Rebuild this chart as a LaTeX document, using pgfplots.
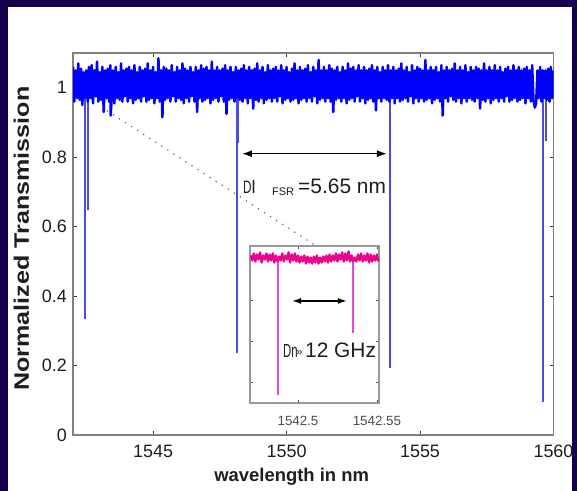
\documentclass[border=0pt]{standalone}
\usepackage{fontspec}
\setmainfont{Liberation Sans}
\usepackage{graphicx}
\usepackage{pgfplots}
\pgfplotsset{compat=1.18}
\usetikzlibrary{arrows.meta}
\definecolor{navybg}{RGB}{21,0,77}
\definecolor{txt}{RGB}{30,30,30}
\definecolor{dipblue}{RGB}{75,75,225}
\definecolor{dipmag}{RGB}{230,70,230}
\begin{document}
\begin{tikzpicture}
\fill[navybg] (-73bp,-56bp) rectangle (504bp,435bp);
\fill[white] (-65bp,-56bp) rectangle (499bp,428bp);
\begin{axis}[
  at={(0bp,0bp)}, anchor=south west,
  scale only axis, width=480.5bp, height=382bp,
  xmin=1542, xmax=1560, ymin=0, ymax=1.1,
  xtick={1545,1550,1555,1560}, ytick={0,0.2,0.4,0.6,0.8,1},
  tick align=inside, major tick length=4bp,
  axis line style={black!50, line width=1.1bp},
  tick style={black!80, line width=0.8bp},
  clip mode=individual,
  unbounded coords=jump,
  /pgf/number format/assume math mode=true,
  /pgf/number format/1000 sep={},
  ticklabel style={font=\fontsize{18}{20}\selectfont, color=txt},
  xticklabel style={inner sep=0pt, anchor=north, yshift=-10bp},
  yticklabel style={inner sep=0pt, anchor=east, xshift=-6bp},
  xlabel={wavelength in nm},
  xlabel style={font=\bfseries\fontsize{18.5}{20}\selectfont, color=txt, at={(axis description cs:0.455,-0.1099)}, anchor=center},
  ylabel={\scalebox{1.2}[1]{Normalized Transmission}},
  ylabel style={font=\bfseries\fontsize{21}{24}\selectfont, color=txt, at={(axis description cs:-0.1072,0.514)}, anchor=center},
]
% resonance dips
\addplot[dipblue, line width=2.1bp] coordinates {
(1542.46,0.97)(1542.46,0.333)(1542.46,nan)
(1542.57,0.97)(1542.57,0.647)(1542.57,nan)
(1548.16,0.97)(1548.16,0.236)(1548.16,nan)
(1548.19,0.97)(1548.19,0.842)(1548.19,nan)
(1553.88,0.97)(1553.88,0.193)(1553.88,nan)
(1559.62,0.97)(1559.62,0.095)(1559.62,nan)
(1559.72,0.97)(1559.72,0.848)
};
% noisy transmission band
\addplot[blue, line width=2.5bp, line join=round] coordinates {
(1542.00,1.06)(1542.05,0.96)(1542.10,1.05)(1542.15,0.97)(1542.20,1.07)(1542.25,0.965)(1542.30,1.055)(1542.35,0.95)(1542.40,1.045)(1542.45,0.97)
(1542.50,1.05)(1542.55,0.96)(1542.60,1.06)(1542.65,0.97)(1542.70,1.065)(1542.75,0.955)(1542.80,1.05)(1542.85,0.975)(1542.90,1.075)(1542.95,0.96)
(1543.00,1.045)(1543.05,0.965)(1543.10,1.06)(1543.15,0.93)(1543.20,1.05)(1543.25,0.97)(1543.30,1.055)(1543.35,0.96)(1543.40,1.065)(1543.41,0.92)(1543.45,0.97)
(1543.50,1.05)(1543.55,0.955)(1543.60,1.06)(1543.65,0.97)(1543.70,1.045)(1543.75,0.965)(1543.80,1.07)(1543.85,0.96)(1543.90,1.05)(1543.95,0.975)
(1544.00,1.055)(1544.05,0.96)(1544.10,1.06)(1544.15,0.97)(1544.20,1.05)(1544.25,0.955)(1544.30,1.065)(1544.35,0.965)(1544.40,1.045)(1544.45,0.97)
(1544.50,1.06)(1544.55,0.96)(1544.60,1.05)(1544.65,0.975)(1544.70,1.055)(1544.75,0.96)(1544.80,1.07)(1544.85,0.965)(1544.90,1.05)(1544.95,0.97)
(1545.00,1.06)(1545.05,0.955)(1545.10,1.045)(1545.15,0.97)(1545.20,1.085)(1545.25,0.96)(1545.30,1.05)(1545.35,0.915)(1545.40,1.06)(1545.45,0.965)
(1545.50,1.055)(1545.55,0.97)(1545.60,1.05)(1545.65,0.96)(1545.70,1.065)(1545.75,0.975)(1545.80,1.045)(1545.85,0.96)(1545.90,1.06)(1545.95,0.97)
(1546.00,1.05)(1546.05,0.965)(1546.10,1.07)(1546.15,0.955)(1546.20,1.055)(1546.25,0.97)(1546.30,1.05)(1546.35,0.96)(1546.40,1.06)(1546.45,0.975)
(1546.50,1.045)(1546.55,0.96)(1546.60,1.06)(1546.65,0.93)(1546.70,1.05)(1546.75,0.97)(1546.80,1.065)(1546.85,0.96)(1546.90,1.055)(1546.95,0.965)
(1547.00,1.06)(1547.05,0.97)(1547.10,1.05)(1547.15,0.955)(1547.20,1.075)(1547.25,0.965)(1547.30,1.05)(1547.35,0.97)(1547.40,1.06)(1547.45,0.96)
(1547.50,1.05)(1547.55,0.975)(1547.60,1.055)(1547.65,0.96)(1547.70,1.065)(1547.75,0.925)(1547.80,1.05)(1547.85,0.965)(1547.90,1.06)(1547.95,0.97)
(1548.00,1.045)(1548.05,0.96)(1548.10,1.06)(1548.15,0.97)(1548.20,1.05)(1548.25,0.965)(1548.30,1.055)(1548.35,0.96)(1548.40,1.065)(1548.45,0.97)
(1548.50,1.05)(1548.55,0.955)(1548.60,1.06)(1548.65,0.97)(1548.70,1.05)(1548.75,0.94)(1548.80,1.055)(1548.85,0.965)(1548.90,1.07)(1548.95,0.96)
(1549.00,1.05)(1549.05,0.97)(1549.10,1.06)(1549.15,0.955)(1549.20,1.045)(1549.25,0.965)(1549.30,1.065)(1549.35,0.97)(1549.40,1.05)(1549.45,0.96)
(1549.50,1.055)(1549.55,0.97)(1549.60,1.06)(1549.65,0.96)(1549.70,1.05)(1549.75,0.975)(1549.80,1.065)(1549.85,0.955)(1549.90,1.05)(1549.95,0.965)
(1550.00,1.06)(1550.05,0.97)(1550.10,1.045)(1550.15,0.96)(1550.20,1.055)(1550.25,0.965)(1550.30,1.07)(1550.35,0.97)(1550.40,1.05)(1550.45,0.955)
(1550.50,1.06)(1550.55,0.965)(1550.60,1.05)(1550.65,0.97)(1550.70,1.055)(1550.75,0.96)(1550.80,1.065)(1550.85,0.97)(1550.90,1.045)(1550.95,0.96)
(1551.00,1.06)(1551.05,0.975)(1551.10,1.05)(1551.15,0.955)(1551.20,1.08)(1551.25,0.965)(1551.30,1.05)(1551.35,0.97)(1551.40,1.06)(1551.45,0.96)
(1551.50,1.05)(1551.55,0.97)(1551.60,1.065)(1551.65,0.96)(1551.70,1.055)(1551.75,0.93)(1551.80,1.05)(1551.85,0.965)(1551.90,1.06)(1551.95,0.97)
(1552.00,1.045)(1552.05,0.96)(1552.10,1.06)(1552.15,0.97)(1552.20,1.05)(1552.25,0.955)(1552.30,1.07)(1552.35,0.965)(1552.40,1.055)(1552.45,0.97)
(1552.50,1.06)(1552.55,0.96)(1552.60,1.05)(1552.65,0.975)(1552.70,1.065)(1552.75,0.96)(1552.80,1.05)(1552.85,0.97)(1552.90,1.06)(1552.95,0.955)
(1553.00,1.05)(1553.05,0.965)(1553.10,1.055)(1553.15,0.97)(1553.20,1.065)(1553.25,0.96)(1553.30,1.05)(1553.35,0.935)(1553.40,1.06)(1553.45,0.97)
(1553.50,1.045)(1553.55,0.96)(1553.60,1.06)(1553.65,0.97)(1553.70,1.05)(1553.75,0.965)(1553.80,1.065)(1553.85,0.96)(1553.90,1.05)(1553.95,0.97)
(1554.00,1.06)(1554.05,0.955)(1554.10,1.05)(1554.15,0.97)(1554.20,1.055)(1554.25,0.96)(1554.30,1.07)(1554.35,0.965)(1554.40,1.05)(1554.45,0.97)
(1554.50,1.06)(1554.55,0.96)(1554.60,1.045)(1554.65,0.975)(1554.70,1.065)(1554.75,0.955)(1554.80,1.05)(1554.85,0.97)(1554.90,1.06)(1554.95,0.96)
(1555.00,1.055)(1555.05,0.97)(1555.10,1.05)(1555.15,0.96)(1555.20,1.08)(1555.25,0.965)(1555.30,1.05)(1555.35,0.97)(1555.40,1.06)(1555.45,0.955)
(1555.50,1.05)(1555.55,0.965)(1555.60,1.06)(1555.65,0.97)(1555.70,1.045)(1555.75,0.96)(1555.80,1.065)(1555.85,0.92)(1555.90,1.05)(1555.95,0.97)
(1556.00,1.06)(1556.05,0.96)(1556.10,1.05)(1556.15,0.975)(1556.20,1.055)(1556.25,0.965)(1556.30,1.07)(1556.35,0.96)(1556.40,1.05)(1556.45,0.97)
(1556.50,1.06)(1556.55,0.955)(1556.60,1.05)(1556.65,0.97)(1556.70,1.065)(1556.75,0.96)(1556.80,1.045)(1556.85,0.97)(1556.90,1.06)(1556.95,0.965)
(1557.00,1.05)(1557.05,0.96)(1557.10,1.06)(1557.15,0.97)(1557.20,1.055)(1557.25,0.94)(1557.30,1.05)(1557.35,0.965)(1557.40,1.07)(1557.45,0.96)
(1557.50,1.05)(1557.55,0.97)(1557.60,1.06)(1557.65,0.955)(1557.70,1.05)(1557.75,0.965)(1557.80,1.065)(1557.85,0.97)(1557.90,1.05)(1557.95,0.96)
(1558.00,1.06)(1558.05,0.97)(1558.10,1.045)(1558.15,0.96)(1558.20,1.055)(1558.25,0.975)(1558.30,1.06)(1558.35,0.96)(1558.40,1.05)(1558.45,0.965)
(1558.50,1.065)(1558.55,0.97)(1558.60,1.05)(1558.65,0.96)(1558.70,1.06)(1558.75,0.965)(1558.80,1.05)(1558.85,0.97)(1558.90,1.055)(1558.95,0.955)
(1559.00,1.06)(1559.05,0.97)(1559.10,1.05)(1559.15,0.96)(1559.20,1.065)(1559.25,0.965)(1559.30,0.943)(1559.35,0.955)(1559.40,1.05)(1559.45,0.97)
(1559.50,1.06)(1559.55,0.96)(1559.60,1.05)(1559.65,0.97)(1559.70,1.05)(1559.75,0.965)(1559.80,1.055)(1559.85,0.96)(1559.90,1.06)(1559.95,0.97)(1560.00,1.05)
};
\draw[black!60, line width=1.2bp, dash pattern=on 1.2bp off 6bp] (axis cs:1543.27,0.934) -- (axis cs:1551.07,0.546);
\draw[black, line width=1.5bp, {Latex[length=10bp,width=7bp]}-{Latex[length=10bp,width=7bp]}] (axis cs:1548.33,0.81) -- (axis cs:1553.76,0.81);
\node[anchor=base west, inner sep=0pt, text=txt, font=\fontsize{18}{20}\selectfont] at (axis cs:1548.37,0.695) {\scalebox{0.65}[1]{D}l};
\node[anchor=base west, inner sep=0pt, text=txt, font=\fontsize{11}{12}\selectfont] at (axis cs:1549.455,0.69) {FSR};
\node[anchor=base west, inner sep=0pt, text=txt, font=\fontsize{21}{22}\selectfont] at (axis cs:1550.43,0.695) {=5.65 nm};
\end{axis}
\begin{axis}[
  at={(177bp,32bp)}, anchor=south west,
  scale only axis, width=129bp, height=157bp,
  xmin=69.6, xmax=151.3, ymin=0.3, ymax=1.066,
  xtick={100,150}, xticklabels={1542.5,1542.55},
  ytick={0.4,0.6,0.8,1}, yticklabels={},
  axis background/.style={fill=white},
  tick align=inside, major tick length=3bp,
  axis line style={black!40, line width=1.1bp},
  tick style={black!70, line width=0.7bp},
  clip mode=individual,
  unbounded coords=jump,
  xticklabel style={font=\fontsize{13.4}{14}\selectfont, color=black!70, inner sep=0pt, anchor=north, yshift=-13bp},
]
\addplot[dipmag, line width=1.9bp] coordinates {
(87.1,0.99)(87.1,0.339)(87.1,nan)
(134.6,0.99)(134.6,0.641)
};
\addplot[magenta, line width=2.2bp, line join=round] coordinates {
(70,1.02)(71,0.995)(72,1.03)(73,0.99)(74,1.025)(75,1.0)(76,1.035)(77,0.985)(78,1.02)(79,1.0)
(80,1.03)(81,0.99)(82,1.025)(83,0.995)(84,1.03)(85,0.985)(86,1.02)(87,0.99)(88,1.015)(89,0.995)
(90,1.03)(91,0.99)(92,1.02)(93,1.0)(94,1.035)(95,0.985)(96,1.025)(97,0.995)(98,1.03)(99,0.99)
(100,1.02)(101,0.985)(102,1.015)(103,0.99)(104,1.02)(105,0.98)(106,1.015)(107,0.985)(108,1.01)(109,0.98)
(110,1.015)(111,0.985)(112,1.02)(113,0.98)(114,1.01)(115,0.985)(116,1.015)(117,0.99)(118,1.02)(119,0.985)
(120,1.025)(121,0.99)(122,1.02)(123,0.995)(124,1.03)(125,0.99)(126,1.025)(127,1.0)(128,1.035)(129,0.99)
(130,1.03)(131,0.995)(132,1.04)(133,0.99)(134,1.02)(135,0.99)(136,1.01)(137,0.99)(138,1.025)(139,0.995)
(140,1.03)(141,0.99)(142,1.02)(143,0.995)(144,1.03)(145,0.985)(146,1.025)(147,0.99)(148,1.02)(149,0.995)(150,1.025)(151,0.99)
};
\draw[black, line width=1.5bp, {Latex[length=9bp,width=6bp]}-{Latex[length=9bp,width=6bp]}] (axis cs:96.2,0.798) -- (axis cs:131.0,0.798);
\node[anchor=base west, inner sep=0pt, text=txt, font=\fontsize{19}{20}\selectfont] at (axis cs:90.5,0.52) {\scalebox{0.6}[1]{Dn}};
\node[anchor=base west, inner sep=0pt, text=txt, font=\fontsize{11}{12}\selectfont] at (axis cs:98.8,0.53) {»};
\node[anchor=base west, inner sep=0pt, text=txt, font=\fontsize{21}{22}\selectfont] at (axis cs:104.4,0.52) {12 GHz};
\end{axis}
\pgfresetboundingbox
\path (-73bp,-56bp) rectangle (504bp,435bp);
\end{tikzpicture}
\end{document}
